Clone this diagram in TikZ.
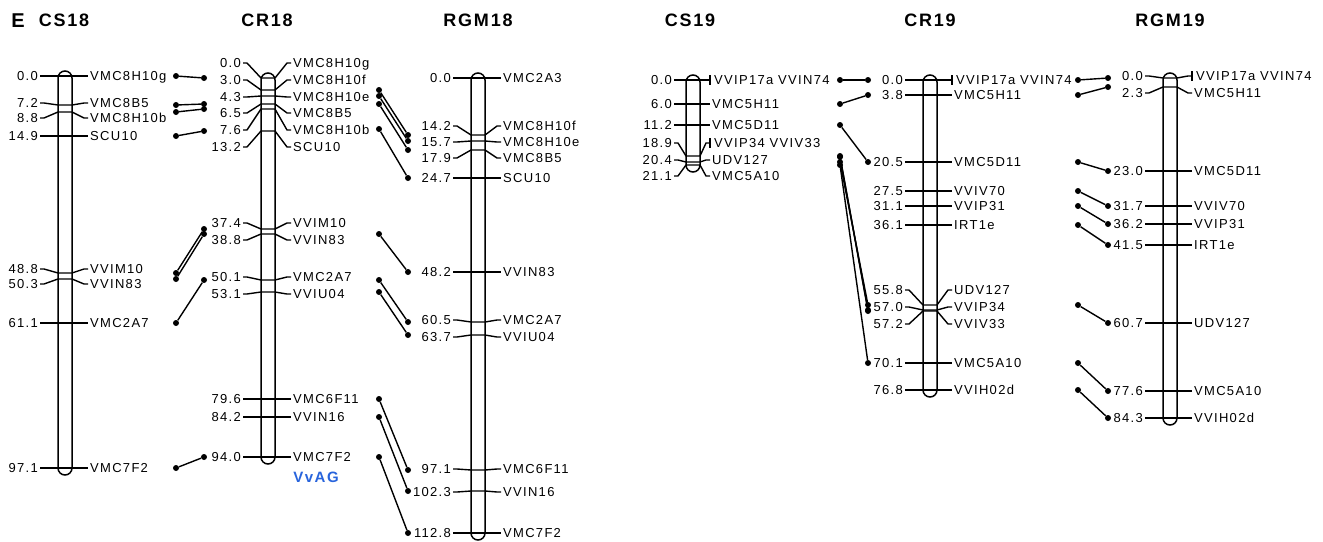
\documentclass[tikz,border=0pt]{standalone}
\usepackage{fontspec}
\setmainfont{Liberation Sans}[LetterSpace=10]
\definecolor{agblue}{RGB}{40,100,220}
\newcommand\chrbar[6]{% #1 prefix, #2 cx, #3 top, #4 bottom, #5 nl, #6 nr
  \draw[chr] (#2-7,#3) rectangle (#2+7,#4);
  \def\cx{#2}\def\nl{#5}\def\nr{#6}\def\pf{#1}}
\newcommand\mkrlist[1]{%
  \foreach \tA/\lA/\nA/\mA [count=\k] in {#1} {
    \node[num] (\pf n\k) at (\cx-\nl,\lA) {\nA};
    \node[nam] (\pf m\k) at (\cx+\nr,\lA) {\mA};
    \draw[ln] ([xshift=2pt]\pf n\k.east) -- ++(4,0) -- (\cx-7,\tA) -- (\cx+7,\tA)
      -- ([xshift=-6pt]\pf m\k.west) -- ([xshift=-2pt]\pf m\k.west);
  }}
\begin{document}
\begin{tikzpicture}[x=1pt,y=-1pt,
  lbl/.style={font=\fontsize{13}{15}\selectfont, inner sep=0pt, text height=9.3pt, text depth=0pt},
  num/.style={lbl, anchor=east},
  nam/.style={lbl, anchor=west},
  ttl/.style={font=\fontsize{18}{20}\selectfont\bfseries, inner sep=0pt, text height=12.9pt, text depth=0pt},
  ln/.style={line width=1.4pt, line join=round},
  chr/.style={draw=black, fill=white, line width=1.5pt, rounded corners=7pt},
  dot/.style={circle, fill=black, inner sep=0pt, minimum size=6pt},
  con/.style={line width=1.4pt}]
\useasboundingbox (0,0) rectangle (1323,541);

% titles
\node[ttl, font=\fontsize{20}{22}\selectfont\bfseries, text height=14.3pt] (E) at (18,20) {E};
\node[ttl] (tCS18) at (64,20) {CS18};
\node[ttl] (tCR18) at (267,20) {CR18};
\node[ttl] (tRGM18) at (478,20) {RGM18};
\node[ttl] (tCS19) at (690,20) {CS19};
\node[ttl] (tCR19) at (930,20) {CR19};
\node[ttl] (tRGM19) at (1170,20) {RGM19};

% CS18
\chrbar{csa}{65}{71}{475}{27}{25}
\mkrlist{76/76/0.0/VMC8H10g, 105/103/7.2/VMC8B5, 112/118/8.8/VMC8H10b, 136/136/14.9/SCU10,
  273/269/48.8/VVIM10, 279/284/50.3/VVIN83, 323/323/61.1/VMC2A7, 468/468/97.1/VMC7F2}

% CR18
\chrbar{cra}{268}{73}{464}{27}{25}
\mkrlist{78/63/0.0/VMC8H10g, 90/80/3.0/VMC8H10f, 96/97/4.3/VMC8H10e, 104/113/6.5/VMC8B5,
  109/130/7.6/VMC8H10b, 131/147/13.2/SCU10, 229/223/37.4/VVIM10, 234/240/38.8/VVIN83,
  280/277/50.1/VMC2A7, 292/294/53.1/VVIU04, 399/399/79.6/VMC6F11, 417/417/84.2/VVIN16,
  457/457/94.0/VMC7F2}
\node[font=\fontsize{15}{17}\selectfont\bfseries, text=agblue, inner sep=0pt] (vvag) at (316,477) {VvAG};

% RGM18
\chrbar{rga}{478}{73}{540}{27}{25}
\mkrlist{78/78/0.0/VMC2A3, 135/126/14.2/VMC8H10f, 141/142/15.7/VMC8H10e, 150/158/17.9/VMC8B5,
  178/178/24.7/SCU10, 272/272/48.2/VVIN83, 322/320/60.5/VMC2A7, 335/337/63.7/VVIU04,
  470/469/97.1/VMC6F11, 491/492/102.3/VVIN16, 533/533/112.8/VMC7F2}

% CS19
\chrbar{csb}{693}{75}{172}{21}{19}
\mkrlist{80/80/0.0/{\hspace{2pt}VVIP17a VVIN74}, 104/104/6.0/VMC5H11, 125/125/11.2/VMC5D11,
  156/143/18.9/{\hspace{2pt}VVIP34 VVIV33}, 162/160/20.4/UDV127, 165/176/21.1/VMC5A10}
\draw[ln] (710,75) -- (710,85);
\draw[ln] (710,138) -- (710,148);

% CR19
\chrbar{crb}{930}{75}{397}{27}{24}
\mkrlist{80/80/0.0/{\hspace{2pt}VVIP17a VVIN74}, 95/95/3.8/VMC5H11, 162/162/20.5/VMC5D11,
  191/191/27.5/VVIV70, 206/206/31.1/VVIP31, 225/225/36.1/IRT1e, 305/290/55.8/UDV127,
  310/307/57.0/VVIP34, 311/324/57.2/VVIV33, 363/363/70.1/VMC5A10, 390/390/76.8/VVIH02d}
\draw[ln] (952,75) -- (952,85);

% RGM19
\chrbar{rgb}{1170}{73}{425}{27}{24}
\mkrlist{78/76/0.0/{\hspace{2pt}VVIP17a VVIN74}, 87/93/2.3/VMC5H11, 171/171/23.0/VMC5D11,
  206/206/31.7/VVIV70, 224/224/36.2/VVIP31, 245/245/41.5/IRT1e, 323/323/60.7/UDV127,
  391/391/77.6/VMC5A10, 418/418/84.3/VVIH02d}
\draw[ln] (1192,71) -- (1192,81);

% connectors
\foreach \a/\b [count=\k] in {76/78, 105/104, 112/109, 136/131, 273/229, 279/234, 323/280, 468/457} {
  \node[dot] (A\k) at (176,\a) {}; \node[dot] (B\k) at (204,\b) {}; \draw[con] (A\k) -- (B\k);}
\foreach \a/\b [count=\k] in {90/135, 96/141, 104/150, 129/178, 234/272, 280/322, 292/335, 399/470, 417/491, 457/533} {
  \node[dot] (C\k) at (379,\a) {}; \node[dot] (D\k) at (408,\b) {}; \draw[con] (C\k) -- (D\k);}
\foreach \a/\b [count=\k] in {80/80, 104/95, 125/162, 156/310, 157/311, 162/305, 165/363} {
  \node[dot] (E\k) at (840,\a) {}; \node[dot] (F\k) at (868,\b) {}; \draw[con] (E\k) -- (F\k);}
\foreach \a/\b [count=\k] in {80/78, 95/87, 162/171, 191/206, 206/224, 225/245, 305/323, 363/391, 390/418} {
  \node[dot] (G\k) at (1078,\a) {}; \node[dot] (H\k) at (1108,\b) {}; \draw[con] (G\k) -- (H\k);}
\end{tikzpicture}
\end{document}
